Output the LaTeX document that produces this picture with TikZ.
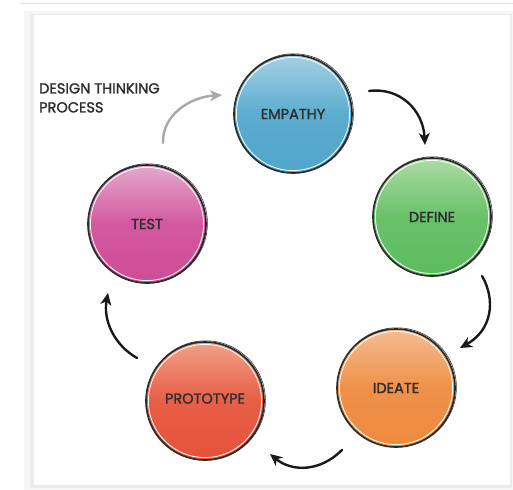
\documentclass[tikz,border=0pt]{standalone}
\usepackage{fontspec}
\setmainfont{Poppins}
\newfontfamily\lblfont{Poppins}[FakeBold=1.6]
\usetikzlibrary{arrows.meta,shadows}
\definecolor{txt}{HTML}{2E2E2E}
\definecolor{bluelt}{HTML}{A3D0E3}
\definecolor{bluedk}{HTML}{4FA6CB}
\definecolor{greenlt}{HTML}{ACDCA5}
\definecolor{greendk}{HTML}{5DBC5F}
\definecolor{orangelt}{HTML}{F5BC90}
\definecolor{orangedk}{HTML}{EE8A3E}
\definecolor{redlt}{HTML}{F1A088}
\definecolor{reddk}{HTML}{E6523A}
\definecolor{pinklt}{HTML}{E4A8CB}
\definecolor{pinkdk}{HTML}{CF4B97}
\definecolor{arrgray}{HTML}{A8A8A8}
\tikzset{
  stage/.style={circle, draw=black!85, line width=1.6pt, minimum size=118pt, inner sep=0pt,
    font=\lblfont\fontsize{14.5}{16}\selectfont, text=txt, shading angle=-15},
  flow/.style={line width=2.4pt, line cap=round, draw=black!90,
    -{Stealth[length=12pt,width=11pt,inset=3.5pt]}},
  flowgray/.style={flow, draw=arrgray},
}
\begin{document}
\begin{tikzpicture}[x=1pt,y=-1pt]
\useasboundingbox (0,0) rectangle (513,489);
\fill[white] (0,0) rectangle (513,489);
% top line
\draw[black!12, line width=1pt] (20,4) -- (513,4);
% card with shadow
\fill[black!4] (24,11) rectangle (513,490);
\fill[black!8] (30,14) rectangle (512,488);
\fill[white] (34,15) rectangle (510,485);

% title
\node[anchor=north west, align=left, text=txt, font=\lblfont\fontsize{14.5}{19}\selectfont, inner sep=0pt]
  (title) at (39,83) {DESIGN THINKING\\PROCESS};

% stages
\node[stage, top color=bluelt, bottom color=bluedk, middle color=bluedk!85!bluelt] (emp) at (293,114) {EMPATHY};
\node[stage, top color=greenlt, bottom color=greendk, middle color=greendk!85!greenlt] (def) at (432,217) {DEFINE};
\node[stage, top color=orangelt, bottom color=orangedk, middle color=orangedk!85!orangelt] (ide) at (396,388) {IDEATE};
\node[stage, top color=redlt, bottom color=reddk, middle color=reddk!85!redlt] (pro) at (205,401) {\raisebox{5pt}{PROTOTYPE}};
\node[stage, top color=pinklt, bottom color=pinkdk, middle color=pinkdk!85!pinklt] (tst) at (147,224) {TEST};

% sketchy second outline
\foreach \n in {emp,def,ide,pro,tst}{
  \draw[white, line width=0.8pt] (\n.center) circle (56.6pt);
  \draw[black!80, line width=0.6pt] ([shift={(0.8,-0.6)}]\n.center) circle (59.6pt);
}

% connector end points
\coordinate (a1) at (369,91);  \coordinate (b1) at (425,145);
\coordinate (a2) at (482,276); \coordinate (b2) at (460,348);
\coordinate (a3) at (342,450); \coordinate (b3) at (270,454);
\coordinate (a4) at (137,358); \coordinate (b4) at (108,293);
\coordinate (a5) at (163,143); \coordinate (b5) at (222,95);

\draw[flow] (a1) .. controls (400,87) and (423,110) .. (b1);
\draw[flow] (a2) .. controls (496,300) and (492,330) .. (b2);
\draw[flow] (a3) .. controls (320,472) and (292,472) .. (b3);
\draw[flow] (a4) .. controls (114,345) and (103,320) .. (b4);
\draw[flowgray] (a5) .. controls (162,115) and (190,97) .. (b5);
\end{tikzpicture}
\end{document}
